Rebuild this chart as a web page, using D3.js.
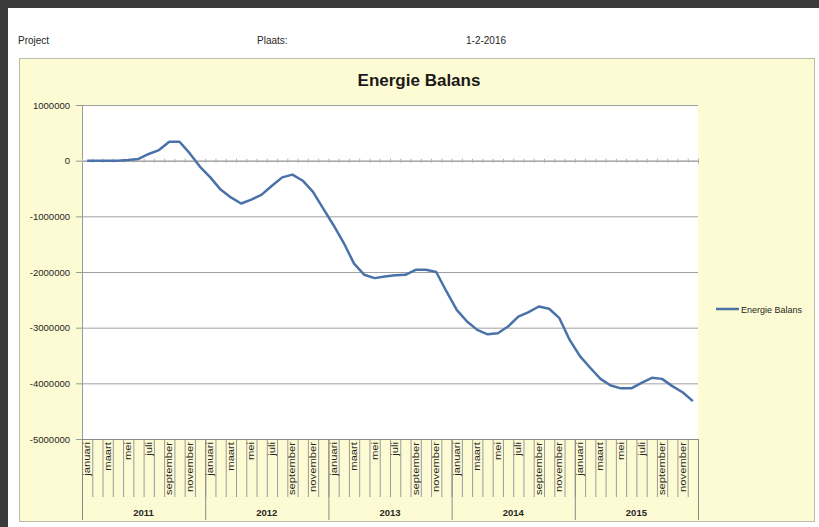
<!DOCTYPE html>
<html>
<head>
<meta charset="utf-8">
<script src="https://cdnjs.cloudflare.com/ajax/libs/d3/7.8.5/d3.min.js"></script>
<style>
  html, body { margin: 0; padding: 0; background: #3b3b3b; }
  svg { display: block; }
  text { font-family: "Liberation Sans", Arial, sans-serif; fill: #262626; }
</style>
</head>
<body>
<svg id="chart" width="819" height="527"></svg>
<script>
// Month names (Dutch) and years on the category axis
const months = ["januari", "februari", "maart", "april", "mei", "juni",
                "juli", "augustus", "september", "oktober", "november", "december"];
const years = ["2011", "2012", "2013", "2014", "2015"];

// Cumulative energy balance, one value per month (jan 2011 .. dec 2015)
const balans = [
  0, 0, 0, 0, 10000, 30000, 120000, 190000, 340000, 340000, 130000, -110000,
  -300000, -520000, -660000, -770000, -700000, -610000, -450000, -300000, -250000, -360000, -560000, -860000,
  -1160000, -1480000, -1850000, -2050000, -2110000, -2080000, -2060000, -2050000, -1960000, -1960000, -2000000, -2350000,
  -2680000, -2890000, -3040000, -3120000, -3100000, -2980000, -2800000, -2720000, -2620000, -2660000, -2830000, -3220000,
  -3510000, -3720000, -3920000, -4040000, -4090000, -4090000, -3990000, -3900000, -3920000, -4050000, -4160000, -4320000
];

// Value axis ticks
const yTicks = [1000000, 0, -1000000, -2000000, -3000000, -4000000, -5000000];

const seriesName = "Energie Balans";
const headerLabels = [
  { text: "Project", x: 18 },
  { text: "Plaats:", x: 257 },
  { text: "1-2-2016", x: 466 }
];

const svg = d3.select("#chart");

// sheet page
svg.append("rect").attr("x", 8).attr("y", 8).attr("width", 811).attr("height", 519).attr("fill", "#ffffff");

// header line of the sheet
svg.selectAll("text.hdr").data(headerLabels).enter().append("text")
  .attr("class", "hdr")
  .attr("x", d => d.x).attr("y", 44)
  .attr("font-size", 10)
  .text(d => d.text);

// chart area
svg.append("rect")
  .attr("x", 19.5).attr("y", 58.5).attr("width", 795).attr("height", 463)
  .attr("fill", "#fdfbd3").attr("stroke", "#bcbcaa").attr("stroke-width", 1);

const plot = { left: 82, right: 698, top: 105, bottom: 439 };
const nMonths = months.length * years.length;

const xBand = d3.scaleBand().domain(d3.range(nMonths)).range([plot.left, plot.right]).padding(0);
const xEdge = d3.scaleLinear().domain([0, nMonths]).range([plot.left, plot.right]);
const y = d3.scaleLinear().domain([-5000000, 1000000]).range([plot.bottom, plot.top]);

// plot area
svg.append("rect")
  .attr("x", plot.left).attr("y", plot.top)
  .attr("width", plot.right - plot.left).attr("height", plot.bottom - plot.top)
  .attr("fill", "#ffffff");

// title
svg.append("text")
  .attr("x", 419).attr("y", 86)
  .attr("text-anchor", "middle")
  .attr("font-family", "Lato, 'Open Sans', sans-serif")
  .attr("font-weight", "bold")
  .attr("font-size", 17)
  .style("fill", "#1a1a1a")
  .text(seriesName);

// horizontal gridlines
svg.append("g")
  .attr("transform", `translate(${plot.left},0)`)
  .call(d3.axisLeft(y).tickValues(yTicks).tickSize(-(plot.right - plot.left)).tickFormat(""))
  .call(g => g.select(".domain").remove())
  .call(g => g.selectAll("line").attr("stroke", "#a0a0a0").attr("stroke-width", 1));

// value axis
const yAxis = svg.append("g")
  .attr("transform", `translate(${plot.left},0)`)
  .call(d3.axisLeft(y).tickValues(yTicks).tickSize(6).tickPadding(6).tickFormat(d => String(d)));
yAxis.select(".domain").attr("stroke", "#9a9a9a");
yAxis.selectAll("line").attr("stroke", "#9a9a9a");
yAxis.selectAll("text").attr("font-size", 9.5).style("fill", "#262626")
  .attr("font-family", "'Liberation Sans', Arial, sans-serif");

// category axis line at zero with small cross ticks
const zeroAxis = svg.append("g")
  .attr("transform", `translate(0,${y(0)})`)
  .call(d3.axisBottom(xEdge).tickValues(d3.range(0, nMonths + 1)).tickSize(3).tickFormat(""));
zeroAxis.select(".domain").attr("stroke", "#a0a0a0");
zeroAxis.selectAll(".tick line").attr("y1", -2).attr("y2", 2).attr("stroke", "#b0b0b0");

// category label box below the plot: month separators
const monthAxis = svg.append("g")
  .attr("transform", `translate(0,${plot.bottom})`)
  .call(d3.axisBottom(xEdge).tickValues(d3.range(0, nMonths + 1)).tickSize(58).tickSizeOuter(0).tickFormat(""));
monthAxis.select(".domain").attr("stroke", "#8a8a8a");
monthAxis.selectAll(".tick line").attr("stroke", "#9a9a9a");

// year separators
const yearAxis = svg.append("g")
  .attr("transform", `translate(0,${plot.bottom})`)
  .call(d3.axisBottom(xEdge).tickValues(d3.range(0, nMonths + 1, 12)).tickSize(81).tickFormat(""));
yearAxis.select(".domain").remove();
yearAxis.selectAll(".tick line").attr("stroke", "#8a8a8a");

// month labels (every other month), rotated
const monthCells = d3.range(nMonths).map(i => ({ i, name: months[i % 12] }));
svg.selectAll("text.month").data(monthCells.filter(d => d.i % 2 === 0)).enter().append("text")
  .attr("class", "month")
  .attr("transform", d => `translate(${xBand(d.i) + xBand.bandwidth() / 2 + 3},${plot.bottom + 3}) rotate(-90) scale(1.25,1)`)
  .attr("text-anchor", "end")
  .attr("font-size", 9)
  .text(d => d.name);

// year labels
svg.selectAll("text.year").data(years).enter().append("text")
  .attr("class", "year")
  .attr("x", (d, k) => xEdge(k * 12 + 6))
  .attr("y", 516)
  .attr("text-anchor", "middle")
  .attr("font-size", 9.5)
  .attr("font-weight", "bold")
  .text(d => d);

// series line
const line = d3.line()
  .x((d, i) => xBand(i) + xBand.bandwidth() / 2)
  .y(d => y(d));

svg.append("path")
  .datum(balans)
  .attr("d", line)
  .attr("fill", "none")
  .attr("stroke", "#4a72a8")
  .attr("stroke-width", 2.5)
  .attr("stroke-linejoin", "round");

// legend
const legend = svg.append("g").attr("transform", "translate(716,309)");
legend.append("line").attr("x1", 0).attr("x2", 23).attr("y1", 0).attr("y2", 0)
  .attr("stroke", "#4a72a8").attr("stroke-width", 2.5);
legend.append("text").attr("x", 25).attr("y", 3.5).attr("font-size", 9).text(seriesName);
</script>
</body>
</html>
